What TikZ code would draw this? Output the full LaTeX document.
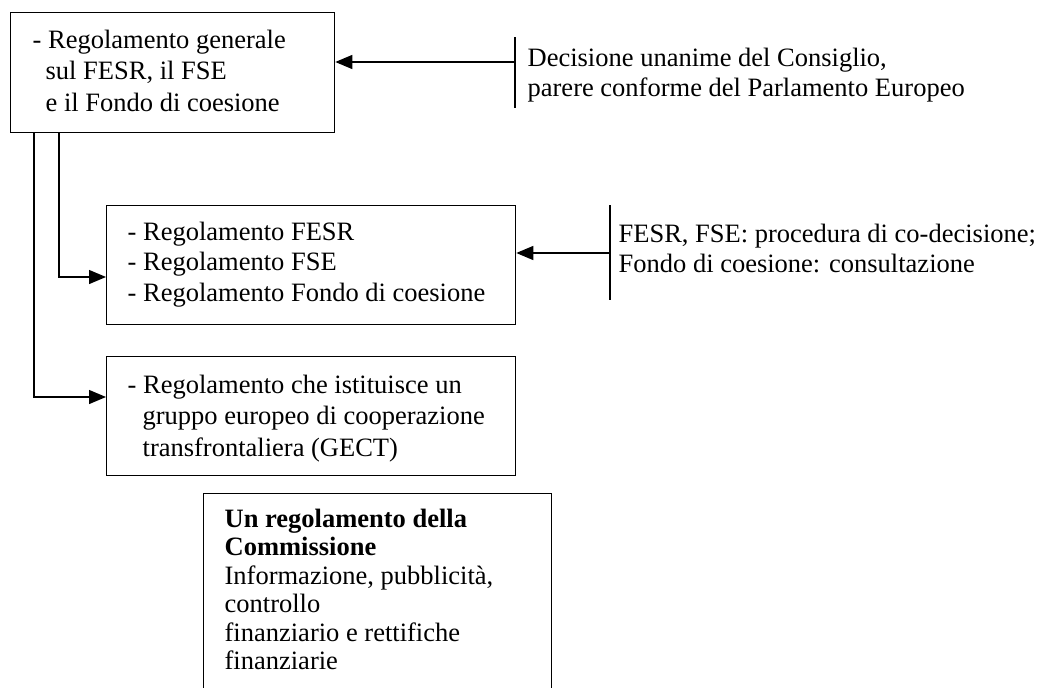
\documentclass[tikz,border=0pt]{standalone}
\usepackage{fontspec}
\setmainfont{Liberation Serif}
\usetikzlibrary{arrows.meta}
\begin{document}
\begin{tikzpicture}[x=1pt,y=-1pt,line width=1.3pt,
  box/.style={draw,line width=1.3pt,inner sep=0pt,anchor=north west},
  txt/.style={anchor=north west,inner sep=0pt,align=left,font=\fontsize{26.5}{#1}\selectfont},
  txt/.default=30.5,
  arr/.style={-{Triangle[length=17pt,width=14pt]},line width=1.3pt}]
\clip (0,0) rectangle (1042,688);
% boxes
\node[box,minimum width=324pt,minimum height=120pt] (b1) at (10,12) {};
\node[box,minimum width=409pt,minimum height=119pt] (b2) at (106,205) {};
\node[box,minimum width=409pt,minimum height=119pt] (b3) at (106,356) {};
\node[box,minimum width=348pt,minimum height=260pt] (b4) at (203,493) {};
% texts
\node[txt=31.5] (t1) at (32,29) {- Regolamento generale\\\hspace*{13pt}sul FESR, il FSE\\\hspace*{13pt}e il Fondo di coesione};
\node[txt] (td) at (527,47) {Decisione unanime del Consiglio,\\parere conforme del Parlamento Europeo};
\node[txt] (t2) at (127,221) {- Regolamento FESR\\- Regolamento FSE\\- Regolamento Fondo di coesione};
\node[txt=30] (tf) at (618,223) {FESR, FSE: procedura di co-decisione;\\Fondo di coesione: consultazione};
\node[txt=31.5] (t3) at (127,374) {- Regolamento che istituisce un\\\hspace*{15pt}gruppo europeo di cooperazione\\\hspace*{15pt}transfrontaliera (GECT)};
\node[txt=28.5] (t4) at (224,508) {\textbf{Un regolamento della}\\\textbf{Commissione}\\Informazione, pubblicità,\\controllo\\finanziario e rettifiche\\finanziarie};
% bars
\coordinate (p1t) at (515,37);
\coordinate (p1b) at (515,108);
\coordinate (p1) at (515,62);
\draw (p1t) -- (p1b);
\draw[arr] (p1) -- (b1.east |- p1);
\coordinate (p2t) at (610,205);
\coordinate (p2b) at (610,300);
\coordinate (p2) at (610,253);
\draw (p2t) -- (p2b);
\draw[arr] (p2) -- (b2.east |- p2);
% connectors from b1
\coordinate (j2) at (0,277);
\coordinate (j3) at (0,397);
\draw[arr] ([xshift=49pt]b1.south west) |- (b2.west |- j2);
\draw[arr] ([xshift=24pt]b1.south west) |- (b3.west |- j3);
\end{tikzpicture}
\end{document}
